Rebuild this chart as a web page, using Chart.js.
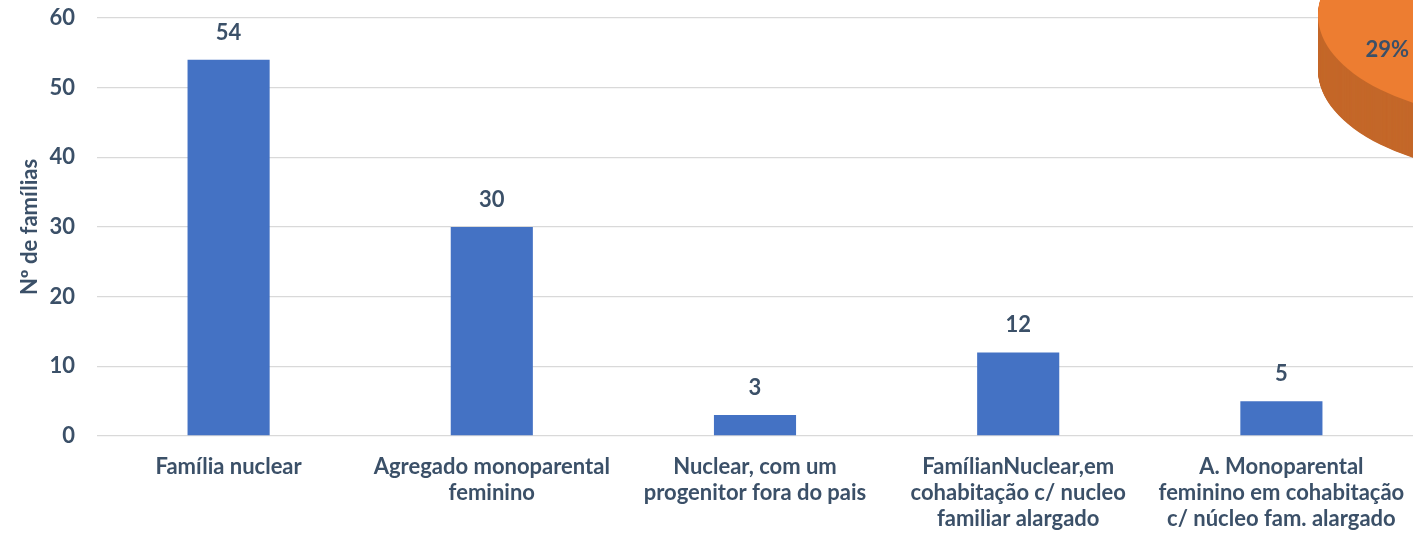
<!DOCTYPE html>
<html>
<head>
<meta charset="utf-8">
<script src="https://cdn.jsdelivr.net/npm/chart.js@4.4.1/dist/chart.umd.min.js"></script>
<style>
  html, body { margin: 0; padding: 0; background: #ffffff; overflow: hidden; width: 1413px; height: 536px; }
  #bar { position: absolute; left: 0; top: 0; z-index: 1; }
  #pie { position: absolute; left: 1318px; top: -195px; z-index: 2; }
</style>
</head>
<body>
<canvas id="bar" width="1413" height="536"></canvas>
<canvas id="pie" width="420" height="420"></canvas>
<script>
// ---- Data ----
const categories = [
  "Família nuclear",
  ["Agregado monoparental", "feminino"],
  ["Nuclear, com um", "progenitor fora do pais"],
  ["FamílianNuclear,em", "cohabitação c/ nucleo", "familiar alargado"],
  ["A. Monoparental", "feminino em cohabitação", "c/ núcleo fam. alargado"]
];
const familyCounts = [54, 30, 3, 12, 5];
const yTicks = [0, 10, 20, 30, 40, 50, 60];
const yTitle = "Nº de famílias";

const pieLabels = ["29%", "71%"];
const pieValues = [29, 71];

// ---- Styles ----
const TEXT = "#3B5068";
const FONT = "Lato";
const WEIGHT = "bold";
const FSIZE = 22;
const BAR_COLOR = "#4472C4";
const GRID = "#D9D9D9";

const dataLabels = {
  id: "dataLabels",
  afterDatasetsDraw(chart) {
    const ctx = chart.ctx;
    const meta = chart.getDatasetMeta(0);
    ctx.save();
    ctx.font = WEIGHT + " " + FSIZE + "px " + FONT;
    ctx.fillStyle = TEXT;
    ctx.textAlign = "center";
    ctx.textBaseline = "middle";
    meta.data.forEach((bar, i) => {
      ctx.fillText(String(familyCounts[i]), bar.x, bar.y - 27);
    });
    ctx.restore();
  }
};

const pie3d = {
  id: "pie3d",
  beforeDatasetsDraw(chart) {
    const ctx = chart.ctx;
    const meta = chart.getDatasetMeta(0);
    const topColors = ["#ED7D31", "#4472C4"];
    const sideColors = ["#C4682A", "#365F9E"];
    const squash = 0.5;
    const depth = 110;
    const drawArc = (arc, color) => {
      const p = arc.getProps(["x", "y", "startAngle", "endAngle", "outerRadius"], true);
      ctx.beginPath();
      ctx.moveTo(p.x, p.y);
      ctx.arc(p.x, p.y, p.outerRadius, p.startAngle, p.endAngle);
      ctx.closePath();
      ctx.fillStyle = color;
      ctx.fill();
    };
    const cy = meta.data[0].y;
    ctx.save();
    ctx.translate(0, cy);
    ctx.scale(1, squash);
    ctx.translate(0, -cy);
    for (let d = depth; d > 0; d -= 1) {
      ctx.save();
      ctx.translate(0, d);
      meta.data.forEach((arc, i) => drawArc(arc, sideColors[i]));
      ctx.restore();
    }
    meta.data.forEach((arc, i) => drawArc(arc, topColors[i]));
    ctx.restore();
    // labels
    ctx.save();
    ctx.font = WEIGHT + " " + FSIZE + "px " + FONT;
    ctx.fillStyle = TEXT;
    ctx.textAlign = "center";
    ctx.textBaseline = "middle";
    meta.data.forEach((arc, i) => {
      const p = arc.getProps(["x", "y", "startAngle", "endAngle", "outerRadius"], true);
      const mid = (p.startAngle + p.endAngle) / 2;
      const r = p.outerRadius * 0.74;
      ctx.fillText(pieLabels[i], p.x + Math.cos(mid) * r - 2, p.y + Math.sin(mid) * r * squash);
    });
    ctx.restore();
    return false;
  }
};

function build() {
  new Chart(document.getElementById("bar"), {
    type: "bar",
    data: {
      labels: categories,
      datasets: [{
        data: familyCounts,
        backgroundColor: BAR_COLOR,
        borderWidth: 0,
        categoryPercentage: 1.0,
        barPercentage: 0.312
      }]
    },
    options: {
      responsive: false,
      devicePixelRatio: 1,
      animation: false,
      layout: { padding: { top: 18, right: 0, left: 0, bottom: 0 } },
      plugins: { legend: { display: false }, tooltip: { enabled: false } },
      scales: {
        x: {
          grid: { display: false, drawTicks: false },
          border: { display: false },
          ticks: {
            color: TEXT,
            font: { family: FONT, size: FSIZE, weight: WEIGHT, lineHeight: 26 / FSIZE },
            padding: 18,
            maxRotation: 0,
            minRotation: 0,
            autoSkip: false
          },
          afterFit(scale) {
            scale.height = 100;
            scale.paddingLeft = 0;
            scale.paddingRight = 0;
          }
        },
        y: {
          min: 0,
          max: 60,
          afterBuildTicks(scale) { scale.ticks = yTicks.map(v => ({ value: v })); },
          grid: { color: GRID, lineWidth: 1.3, drawTicks: false },
          border: { display: false },
          ticks: {
            color: TEXT,
            font: { family: FONT, size: FSIZE, weight: WEIGHT },
            padding: 22
          },
          title: {
            display: true,
            text: yTitle,
            color: TEXT,
            font: { family: FONT, size: FSIZE, weight: WEIGHT },
            padding: { top: 17, bottom: 0 }
          },
          afterFit(scale) {
            scale.width = 97;
            scale.paddingTop = 0;
            scale.paddingBottom = 0;
          }
        }
      }
    },
    plugins: [dataLabels]
  });

  new Chart(document.getElementById("pie"), {
    type: "pie",
    data: {
      labels: pieLabels,
      datasets: [{
        data: pieValues,
        backgroundColor: ["#ED7D31", "#4472C4"],
        borderWidth: 0
      }]
    },
    options: {
      responsive: false,
      devicePixelRatio: 1,
      animation: false,
      rotation: 191,
      layout: { padding: 0 },
      plugins: { legend: { display: false }, tooltip: { enabled: false } }
    },
    plugins: [pie3d]
  });
}

if (document.fonts && document.fonts.load) {
  document.fonts.load(WEIGHT + " " + FSIZE + "px " + FONT).then(build, build);
} else {
  build();
}
</script>
</body>
</html>
